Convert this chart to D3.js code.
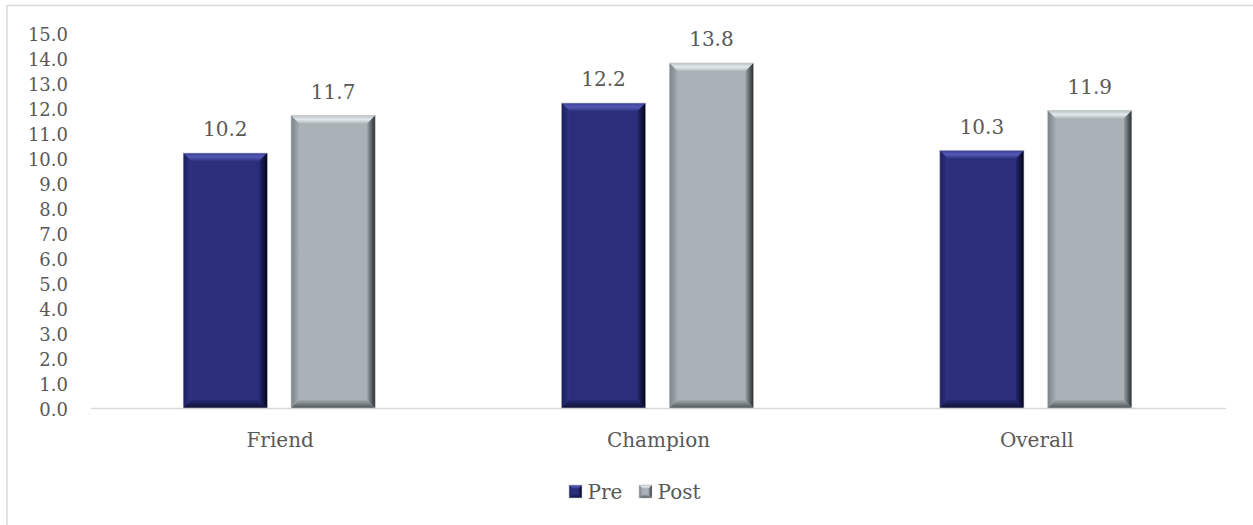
<!DOCTYPE html>
<html>
<head>
<meta charset="utf-8">
<script src="https://cdn.jsdelivr.net/npm/d3@7"></script>
<style>
  body { margin: 0; background: #fff; }
  text { font-family: "DejaVu Serif", "Liberation Serif", serif; fill: #595959; }
</style>
</head>
<body>
<svg width="1253" height="525"></svg>
<script>
// data
var categories = ["Friend", "Champion", "Overall"];
var series = ["Pre", "Post"];
var preValues = [10.2, 12.2, 10.3];
var postValues = [11.7, 13.8, 11.9];
var yTicks = [0, 1, 2, 3, 4, 5, 6, 7, 8, 9, 10, 11, 12, 13, 14, 15];

var svg = d3.select("svg"),
    width = +svg.attr("width"),
    height = +svg.attr("height");

// chart frame (only top and left edges visible)
svg.append("line").attr("x1", 7).attr("y1", 5.5).attr("x2", width).attr("y2", 5.5)
    .attr("stroke", "#d9d9d9").attr("stroke-width", 1.5);
svg.append("line").attr("x1", 7).attr("y1", 5).attr("x2", 7).attr("y2", height)
    .attr("stroke", "#d9d9d9").attr("stroke-width", 1.5);

var plotL = 91, plotR = 1226, plotT = 33, plotB = 408;

var x0 = d3.scaleBand().domain(categories).range([plotL, plotR]);
var x1 = d3.scaleBand().domain(series).range([-55 - 42, 53 + 42]).paddingInner(0.22);
var y = d3.scaleLinear().domain([0, 15]).range([plotB, plotT]);

// bevel colours: [outer edge, inner edge] per side
var styles = {
  Pre:  { base: "#2b2f7b", top: ["#3a3f98", "#5358b4", "#2f3482"], left: ["#1c1f5c", "#2f3385"],
          right: ["#23266a", "#04051a"], bottom: ["#262a70", "#0e1035"] },
  Post: { base: "#a9b3b7", top: ["#b9c2c5", "#e3e9eb", "#b0babd"], left: ["#7b8589", "#a3adb1"],
          right: ["#98a2a6", "#262a2c"], bottom: ["#a0aaae", "#4d5457"] }
};

var defs = svg.append("defs");
function grad(id, x2, y2, stops) {
  var g = defs.append("linearGradient").attr("id", id)
      .attr("x1", 0).attr("y1", 0).attr("x2", x2).attr("y2", y2);
  stops.forEach(function(c, i) {
    g.append("stop").attr("offset", i / (stops.length - 1)).attr("stop-color", c);
  });
}
series.forEach(function(s) {
  var st = styles[s];
  grad(s + "-top", 0, 1, st.top);
  grad(s + "-left", 1, 0, st.left);
  grad(s + "-right", 1, 0, st.right);
  grad(s + "-bottom", 0, 1, st.bottom);
});

// y axis labels
svg.append("g").selectAll("text")
  .data(yTicks).enter().append("text")
    .attr("x", 68).attr("y", function(d) { return y(d) + 1.5; })
    .attr("dy", "0.35em")
    .attr("text-anchor", "end")
    .style("font-size", "18px")
    .text(function(d) { return d3.format(".1f")(d); });

// baseline
svg.append("line").attr("x1", plotL).attr("x2", plotR)
    .attr("y1", plotB + 0.5).attr("y2", plotB + 0.5)
    .attr("stroke", "#d9d9d9").attr("stroke-width", 1.5);

var rows = [];
categories.forEach(function(c, i) {
  rows.push({ cat: c, s: "Pre", v: preValues[i] });
  rows.push({ cat: c, s: "Post", v: postValues[i] });
});

function bevelBar(g, x, yt, w, h, s, b) {
  var xr = x + w, yb = yt + h;
  g.append("rect").attr("x", x).attr("y", yt).attr("width", w).attr("height", h).attr("fill", styles[s].base);
  g.append("polygon").attr("points", [[x, yt], [xr, yt], [xr - b, yt + b], [x + b, yt + b]].join(" ")).attr("fill", "url(#" + s + "-top)");
  g.append("polygon").attr("points", [[x, yt], [x + b, yt + b], [x + b, yb - b], [x, yb]].join(" ")).attr("fill", "url(#" + s + "-left)");
  g.append("polygon").attr("points", [[xr, yt], [xr, yb], [xr - b, yb - b], [xr - b, yt + b]].join(" ")).attr("fill", "url(#" + s + "-right)");
  g.append("polygon").attr("points", [[x, yb], [xr, yb], [xr - b, yb - b], [x + b, yb - b]].join(" ")).attr("fill", "url(#" + s + "-bottom)");
  g.append("rect").attr("x", x).attr("y", yt).attr("width", w).attr("height", h)
    .attr("fill", "none").attr("stroke", "#c8c8c8").attr("stroke-width", 0.6);
}

var bars = svg.append("g");
rows.forEach(function(d) {
  var cx = x0(d.cat) + x0.bandwidth() / 2;
  var bx = cx + x1(d.s);
  bevelBar(bars.append("g"), bx, y(d.v), x1.bandwidth(), plotB - y(d.v), d.s, 8);
  svg.append("text")
    .attr("x", bx + x1.bandwidth() / 2).attr("y", y(d.v) - 24)
    .attr("dy", "0.35em").attr("text-anchor", "middle")
    .style("font-size", "20px")
    .text(d3.format(".1f")(d.v));
});

// category labels
svg.append("g").selectAll("text")
  .data(categories).enter().append("text")
    .attr("x", function(d) { return x0(d) + x0.bandwidth() / 2; })
    .attr("y", 440).attr("dy", "0.35em")
    .attr("text-anchor", "middle")
    .style("font-size", "20px")
    .text(function(d) { return d; });

// legend
var legendX = [569, 639];
series.forEach(function(s, i) {
  bevelBar(svg.append("g"), legendX[i], 485, 13, 13, s, 3.5);
  svg.append("text").attr("x", legendX[i] + 18.5).attr("y", 499)
    .style("font-size", "20px").text(s);
});
</script>
</body>
</html>
